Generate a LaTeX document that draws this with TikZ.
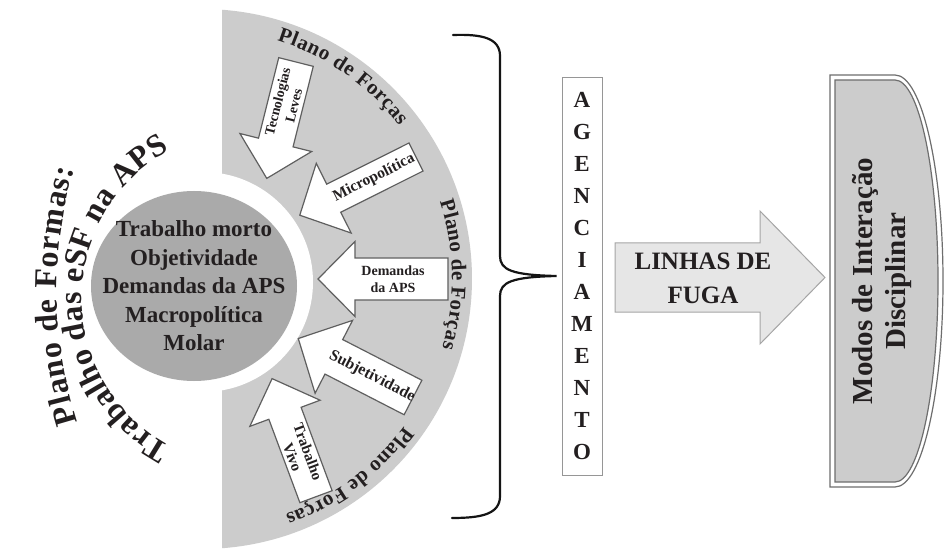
\documentclass[tikz,border=0pt]{standalone}
\usepackage{fontspec}
\setmainfont{Liberation Serif}
\usetikzlibrary{decorations.text}
\begin{document}
\begin{tikzpicture}[x=1pt,y=1pt,
  forcearrow/.style={draw=drawColor,fill=white,line width=1.2pt,line join=miter},
  forcetext/.style={text=textColor,align=center,inner sep=0pt,font=\fontsize{#1}{16.5}\selectfont\bfseries},
  forcetext/.default=14.5,
  arclabel/.style={decorate,decoration={text along path,text align=fit to path,text={#1}}}]
\definecolor{textColor}{RGB}{35,31,32}
\definecolor{fillColor}{RGB}{255,255,255}
\path[use as bounding box,fill=fillColor] (0,0) rectangle (946,550);

% plano de formas
\definecolor{fillColor}{RGB}{204,204,204}
\path[fill=fillColor] (222,540.26) arc[start angle=85.75,end angle=-85.75,radius=270] -- cycle;
\definecolor{fillColor}{RGB}{255,255,255}
\path[fill=fillColor] (203,268) circle (110);
\definecolor{fillColor}{RGB}{170,170,170}
\path[fill=fillColor] (194,264) ellipse [x radius=103,y radius=95];
\node[text=textColor,align=center,inner sep=0pt,font=\fontsize{23}{28.5}\selectfont\bfseries] (formas) at (194,264) {Trabalho morto\\Objetividade\\Demandas da APS\\Macropolítica\\Molar};

\path[arclabel={|\fontsize{32}{32}\selectfont\bfseries\color{textColor}|Plano de Formas:}] ([shift={(496,260)}]197.5:439) arc[start angle=197.5,end angle=164,radius=439];
\path[arclabel={|\fontsize{32}{32}\selectfont\bfseries\color{textColor}|Trabalho das eSF na APS}] ([shift={(250,252)}]242:168) arc[start angle=242,end angle=118.5,radius=168];

% plano de forcas
\path[arclabel={|\fontsize{21}{21}\selectfont\bfseries\color{textColor}|Plano de Forças}] ([shift={(202,271)}]72.5:250) arc[start angle=72.5,end angle=37.8,radius=250];
\path[arclabel={|\fontsize{21}{21}\selectfont\bfseries\color{textColor}|Plano de Forças}] ([shift={(202,271)}]18:250) arc[start angle=18,end angle=-16,radius=250];
\path[arclabel={|\fontsize{21}{21}\selectfont\bfseries\color{textColor}|Plano de Forças}] ([shift={(202,271)}]-36.1:250) arc[start angle=-36.1,end angle=-70.5,radius=250];

\definecolor{drawColor}{RGB}{95,95,95}
\begin{scope}[shift={(296,488)},rotate=255.9]
\path[forcearrow] (0,-17.8) -- (83,-17.8) -- (83,-37) -- (120,0) -- (83,37) -- (83,17.8) -- (0,17.8) -- cycle;
\node[forcetext=14,rotate=75.9] (tecnologias) at (43,0) {Tecnologias\\Leves};
\end{scope}
\begin{scope}[shift={(416,393)},rotate=206.6]
\path[forcearrow] (0,-15.7) -- (92,-15.7) -- (92,-39) -- (130,0) -- (92,39) -- (92,15.7) -- (0,15.7) -- cycle;
\node[forcetext=15.5,rotate=26.6] (micropolitica) at (47,0) {Micropolítica};
\end{scope}
\begin{scope}[shift={(448,271)},rotate=180]
\path[forcearrow] (0,-21) -- (93,-21) -- (93,-37.5) -- (130,0) -- (93,37.5) -- (93,21) -- (0,21) -- cycle;
\node[forcetext=14] (demandas) at (55,0) {Demandas\\da APS};
\end{scope}
\begin{scope}[shift={(413,152.5)},rotate=152.8]
\path[forcearrow] (0,-19.4) -- (89,-19.4) -- (89,-41) -- (129,0) -- (89,41) -- (89,19.4) -- (0,19.4) -- cycle;
\node[forcetext=16,rotate=-27.2] (subjetividade) at (46,0) {Subjetividade};
\end{scope}
\begin{scope}[shift={(316,53.3)},rotate=110.4]
\path[forcearrow] (0,-17.2) -- (89,-17.2) -- (89,-37.5) -- (126,0) -- (89,37.5) -- (89,17.2) -- (0,17.2) -- cycle;
\node[forcetext=15,rotate=-69.6] (vivo) at (45,0) {Trabalho\\Vivo};
\end{scope}

% agenciamento
\definecolor{drawColor}{RGB}{150,150,150}
\node[draw=drawColor,fill=white,line width=0.8pt,text=textColor,align=center,inner sep=0pt,minimum width=40,minimum height=398,font=\fontsize{23}{32}\selectfont\bfseries] (agenciamento) at (582,274) {A\\G\\E\\N\\C\\I\\A\\M\\E\\N\\T\\O};
\definecolor{drawColor}{RGB}{20,20,20}
\coordinate (bracetip) at ([xshift=-5]agenciamento.west);
\path[draw=drawColor,line width=2.2pt,line cap=round] (453,515) .. controls (482,516) and (500,512) .. (500,494) -- (500,294) .. controls (500,280) and (512,275) .. (bracetip) .. controls (512,273) and (500,268) .. (500,254) -- (500,54) .. controls (500,36) and (482,32) .. (452,32);

% linhas de fuga
\definecolor{fillColor}{RGB}{230,230,230}
\definecolor{drawColor}{RGB}{165,165,165}
\path[draw=drawColor,fill=fillColor,line width=1pt] (615,238) -- (760,238) -- (760,206) -- (825,272.5) -- (760,339) -- (760,307) -- (615,307) -- cycle;
\node[text=textColor,align=center,inner sep=0pt,font=\fontsize{25}{34}\selectfont\bfseries] (linhas) at (703,272) {LINHAS DE\\FUGA};

% modos de interacao
\definecolor{fillColor}{RGB}{255,255,255}
\definecolor{drawColor}{RGB}{110,110,110}
\path[draw=drawColor,fill=fillColor,line width=1.2pt] (830,475) -- (895,475) arc[start angle=90,end angle=-90,x radius=48,y radius=206] -- (830,63) -- cycle;
\definecolor{fillColor}{RGB}{204,204,204}
\path[draw=drawColor,fill=fillColor,line width=1.2pt] (835,470) -- (895,470) arc[start angle=90,end angle=-90,x radius=43,y radius=201] -- (835,68) -- cycle;
\node[rotate=90,text=textColor,align=center,inner sep=0pt,font=\fontsize{29}{33}\selectfont\bfseries] (modos) at (882,269) {Modos de Interação\\Disciplinar};
\end{tikzpicture}
\end{document}
